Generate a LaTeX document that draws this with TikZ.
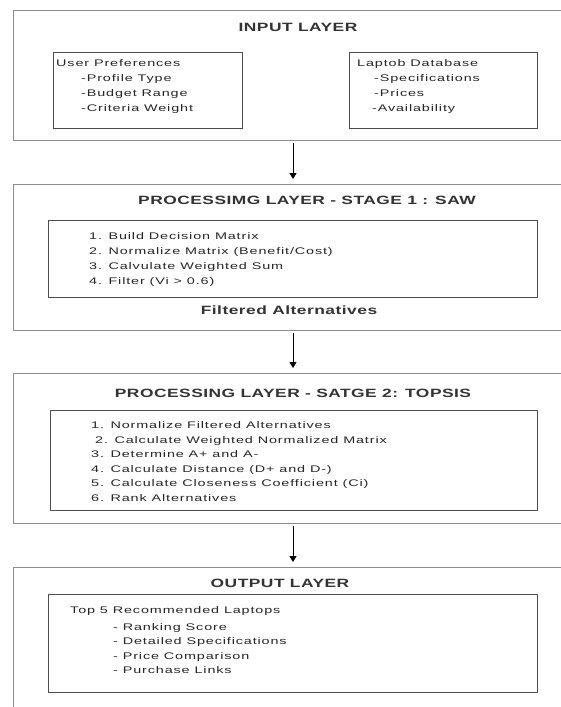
\documentclass[tikz,border=0pt]{standalone}
\usepackage{fontspec}
\setmainfont{Liberation Sans}
\newfontfamily\itemfont{Liberation Sans}[FakeStretch=1.5,LetterSpace=9]
\newfontfamily\titlefont{Liberation Sans}[FakeStretch=1.45,LetterSpace=4]
\usetikzlibrary{arrows.meta}
\begin{document}
\begin{tikzpicture}[x=1pt,y=-1pt,
  outerbox/.style={draw=black!45, line width=1.4pt, anchor=north west, inner sep=0pt},
  subbox/.style={draw=black!70, line width=1.1pt, anchor=north west, inner sep=0pt},
  ttl/.style={anchor=base, inner sep=0pt, font=\titlefont\bfseries\fontsize{12}{14}\selectfont, text=black!80},
  itm/.style={anchor=base west, inner sep=0pt, font=\itemfont\fontsize{9.6}{11}\selectfont, text=black!85},
  arr/.style={-{Triangle[length=6pt,width=7pt]}, line width=1pt, shorten <=2pt, shorten >=5pt}]
\useasboundingbox[fill=white] (0,0) rectangle (560,707);

% outer layers
\node[outerbox, minimum width=562pt, minimum height=130pt] (inL) at (13,10) {};
\node[outerbox, minimum width=562pt, minimum height=146pt] (sawL) at (13,184) {};
\node[outerbox, minimum width=562pt, minimum height=150pt] (topL) at (13,373) {};
\node[outerbox, minimum width=562pt, minimum height=160pt] (outL) at (13,567) {};

% inner boxes
\node[subbox, minimum width=189pt, minimum height=76pt] (up) at (53,52) {};
\node[subbox, minimum width=188pt, minimum height=76pt] (db) at (349,52) {};
\node[subbox, minimum width=489pt, minimum height=77pt] (sawB) at (48,220) {};
\node[subbox, minimum width=487pt, minimum height=100pt] (topB) at (50,410) {};
\node[subbox, minimum width=489pt, minimum height=98pt] (outB) at (48,594) {};

% titles
\node[ttl] (t1) at (298,31.5) {INPUT LAYER};
\node[ttl] (t2) at (307,204.5) {PROCESSIMG LAYER - STAGE 1 : SAW};
\node[ttl] (t3) at (293,397.5) {PROCESSING LAYER - SATGE 2: TOPSIS};
\node[ttl] (t4) at (280,587.5) {OUTPUT LAYER};
\node[ttl] (fa) at (289,314.5) {Filtered Alternatives};

% input layer texts
\node[itm] (u0) at (56,66) {User Preferences};
\node[itm] (u1) at (81,81) {-Profile Type};
\node[itm] (u2) at (81,96) {-Budget Range};
\node[itm] (u3) at (81,111) {-Criteria Weight};
\node[itm] (d0) at (357,66) {Laptob Database};
\node[itm] (d1) at (374,81) {-Specifications};
\node[itm] (d2) at (374,96) {-Prices};
\node[itm] (d3) at (372,111) {-Availability};

% SAW texts
\node[itm] (s1) at (89,239) {1. Build Decision Matrix};
\node[itm] (s2) at (89,254) {2. Normalize Matrix (Benefit/Cost)};
\node[itm] (s3) at (89,269) {3. Calvulate Weighted Sum};
\node[itm] (s4) at (89,284) {4. Filter (Vi > 0.6)};

% TOPSIS texts
\node[itm] (p1) at (91,428.5) {1. Normalize Filtered Alternatives};
\node[itm] (p2) at (95,443) {2. Calculate Weighted Normalized Matrix};
\node[itm] (p3) at (91,457.5) {3. Determine A+ and A-};
\node[itm] (p4) at (91,472) {4. Calculate Distance (D+ and D-)};
\node[itm] (p5) at (91,486.5) {5. Calculate Closeness Coefficient (Ci)};
\node[itm] (p6) at (91,501) {6. Rank Alternatives};

% output texts
\node[itm] (o0) at (70,613.5) {Top 5 Recommended Laptops};
\node[itm] (o1) at (113,630) {- Ranking Score};
\node[itm] (o2) at (113,644.5) {- Detailed Specifications};
\node[itm] (o3) at (113,659) {- Price Comparison};
\node[itm] (o4) at (113,673.5) {- Purchase Links};

% arrows
\coordinate (ax) at (293,0);
\draw[arr] (inL.south -| ax) -- (sawL.north -| ax);
\draw[arr] (sawL.south -| ax) -- (topL.north -| ax);
\draw[arr] (topL.south -| ax) -- (outL.north -| ax);
\end{tikzpicture}
\end{document}
